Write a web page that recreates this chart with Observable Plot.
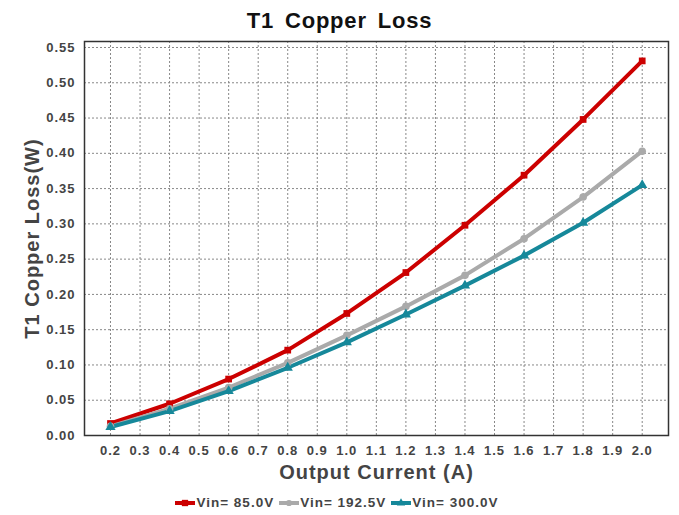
<!DOCTYPE html>
<html>
<head>
<meta charset="utf-8">
<script src="https://cdn.jsdelivr.net/npm/d3@7"></script>
<script src="https://cdn.jsdelivr.net/npm/@observablehq/plot@0.6"></script>
<style>
  body { margin: 0; background: #fff; font-family: "Liberation Sans", Arial, sans-serif; }
  #wrap { width: 679px; }
  #title { height: 36px; line-height: 41px; text-align: center; font-weight: bold; font-size: 22px; color: #111; letter-spacing: 0.8px; word-spacing: 4px; }
  #legend { height: 29px; display: flex; justify-content: center; align-items: center; font-weight: bold; font-size: 13.5px; color: #444; letter-spacing: 1px; padding-top: 4px; box-sizing: border-box; }
  .item { display: flex; align-items: center; margin-right: 5px; }
  .item svg { margin-right: 1px; }
  #chart svg text { letter-spacing: 1px; }
</style>
</head>
<body>
<div id="wrap">
  <div id="title">T1 Copper Loss</div>
  <div id="chart"></div>
  <div id="legend"></div>
</div>
<script>
const current = [0.2, 0.4, 0.6, 0.8, 1.0, 1.2, 1.4, 1.6, 1.8, 2.0];
const vin85 = [0.017, 0.045, 0.080, 0.121, 0.173, 0.231, 0.298, 0.369, 0.448, 0.531];
const vin1925 = [0.013, 0.038, 0.068, 0.103, 0.142, 0.183, 0.227, 0.279, 0.338, 0.403];
const vin300 = [0.012, 0.0345, 0.063, 0.096, 0.132, 0.1715, 0.2125, 0.255, 0.3015, 0.355];
const seriesNames = ["Vin= 85.0V", "Vin= 192.5V", "Vin= 300.0V"];
const seriesColors = ["#cc0000", "#aaaaaa", "#16889a"];
const seriesSymbols = ["square", "circle", "triangle"];
const xTicks = [0.2,0.3,0.4,0.5,0.6,0.7,0.8,0.9,1.0,1.1,1.2,1.3,1.4,1.5,1.6,1.7,1.8,1.9,2.0];
const yTicks = [0,0.05,0.10,0.15,0.20,0.25,0.30,0.35,0.40,0.45,0.50,0.55];

const allSeries = [vin85, vin1925, vin300];
const data = [];
allSeries.forEach((vals, si) => vals.forEach((v, i) => data.push({x: current[i], y: v, s: seriesNames[si]})));

const chart = Plot.plot({
  width: 679,
  height: 450,
  marginTop: 5,
  marginBottom: 51,
  marginLeft: 84,
  marginRight: 11,
  style: {fontFamily: "'Liberation Sans', Arial, sans-serif", background: "#fff"},
  x: {domain: [0.112, 2.089], ticks: xTicks, tickFormat: d3.format(".1f"), label: null},
  y: {domain: [0, 0.5585], ticks: yTicks, tickFormat: d3.format(".2f"), label: null},
  color: {domain: seriesNames, range: seriesColors},
  symbol: {domain: seriesNames, range: seriesSymbols},
  marks: [
    Plot.gridX(xTicks, {stroke: "#888", strokeOpacity: 1, strokeDasharray: "2,2", strokeWidth: 1}),
    Plot.gridY(yTicks, {stroke: "#888", strokeOpacity: 1, strokeDasharray: "2,2", strokeWidth: 1}),
    Plot.axisX(xTicks, {tickSize: 0, tickPadding: 10, fontSize: 13, fontWeight: "bold", fill: "#444"}),
    Plot.axisY(yTicks, {tickSize: 0, tickPadding: 9, fontSize: 13, fontWeight: "bold", fill: "#444"}),
    Plot.text(["Output Current (A)"], {frameAnchor: "bottom", dy: 43, fontSize: 20, fontWeight: "bold", fill: "#444"}),
    Plot.text(["T1 Copper Loss(W)"], {frameAnchor: "left", textAnchor: "middle", dx: -52, rotate: -90, fontSize: 20, fontWeight: "bold", fill: "#444"}),
    Plot.line(data, {x: "x", y: "y", z: "s", stroke: "s", strokeWidth: 4}),
    Plot.dot(data, {x: "x", y: "y", symbol: "s", fill: "s", r: 3.8}),
    Plot.frame({stroke: "#333", strokeWidth: 1.5})
  ]
});
document.getElementById("chart").appendChild(chart);

const legend = document.getElementById("legend");
seriesNames.forEach((name, i) => {
  const item = document.createElement("div");
  item.className = "item";
  const sym = d3.symbol().type(i === 0 ? d3.symbolSquare : i === 1 ? d3.symbolCircle : d3.symbolTriangle).size(i === 0 ? 40 : 30)();
  item.innerHTML = `<svg width="20" height="12"><line x1="0" y1="6" x2="20" y2="6" stroke="${seriesColors[i]}" stroke-width="4"/><path d="${sym}" transform="translate(10,6)" fill="${seriesColors[i]}"/></svg><span>${name}</span>`;
  legend.appendChild(item);
});
</script>
</body>
</html>
